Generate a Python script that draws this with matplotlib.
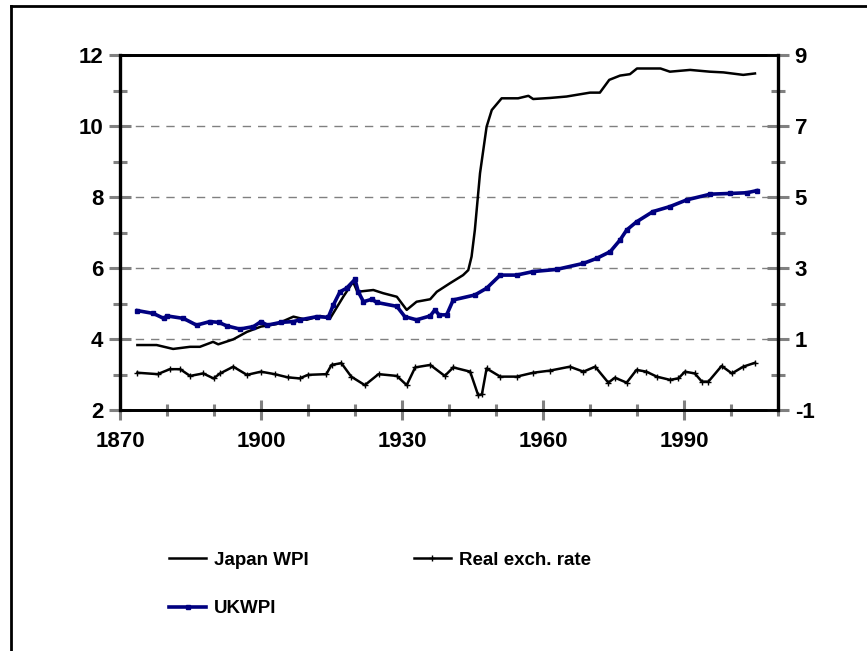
import numpy as np
import matplotlib.pyplot as plt
from matplotlib.lines import Line2D

# Japan WPI (log, left axis)
jp_year = [1873.7, 1877.8, 1881.3, 1884.9, 1887, 1889.8, 1890.9, 1894.1, 1897, 1900,
           1903.3, 1906.9, 1909.7, 1912.6, 1914.7, 1917.5, 1919.6, 1920.5, 1923.9, 1926,
           1928.9, 1931, 1933.1, 1936, 1937.4, 1940.2, 1943, 1944.1, 1944.8, 1945.5,
           1946.6, 1948, 1949.1, 1951.2, 1954.7, 1956.9, 1957.9, 1961.5, 1965, 1970,
           1972.1, 1974.1, 1976.4, 1978.5, 1980, 1985, 1987, 1991.3, 1995.5, 1998.4,
           2002.6, 2005.1]
jp_wpi = [3.83, 3.83, 3.72, 3.78, 3.78, 3.92, 3.85, 3.99, 4.20, 4.35,
          4.42, 4.63, 4.54, 4.65, 4.58, 5.19, 5.61, 5.33, 5.38, 5.29,
          5.19, 4.82, 5.05, 5.12, 5.33, 5.57, 5.80, 5.94, 6.32, 7.07,
          8.67, 9.98, 10.45, 10.78, 10.78, 10.85, 10.76, 10.79, 10.83, 10.94,
          10.94, 11.30, 11.42, 11.46, 11.62, 11.62, 11.53, 11.58, 11.53, 11.51,
          11.44, 11.48]

# UK WPI (log, left axis)
uk_year = [1873.7, 1877.1, 1879.3, 1880, 1883.5, 1886.3, 1889.1, 1891, 1892.7, 1895.5,
           1898.4, 1900, 1901.3, 1904.3, 1906.9, 1908.3, 1911.9, 1914.3, 1915.4, 1916.8,
           1918.2, 1920, 1920.7, 1921.8, 1923.6, 1924.6, 1928.9, 1930.6, 1933.1, 1936,
           1937, 1937.9, 1939.5, 1940.9, 1945.5, 1948, 1950.9, 1954.4, 1957.9, 1962.9,
           1968.6, 1971.4, 1974.3, 1976.4, 1977.8, 1979.9, 1983.4, 1987, 1990.6, 1995.6,
           1999.8, 2003.4, 2005.5]
uk_wpi = [4.80, 4.72, 4.58, 4.65, 4.58, 4.39, 4.49, 4.47, 4.37, 4.28,
          4.35, 4.49, 4.39, 4.47, 4.49, 4.54, 4.63, 4.61, 4.96, 5.33,
          5.43, 5.68, 5.33, 5.05, 5.12, 5.03, 4.92, 4.63, 4.54, 4.65,
          4.82, 4.68, 4.68, 5.10, 5.24, 5.43, 5.80, 5.80, 5.90, 5.96,
          6.13, 6.27, 6.46, 6.79, 7.07, 7.30, 7.59, 7.73, 7.92, 8.08,
          8.10, 8.12, 8.18]

# Real exchange rate (right axis)
rx_year = [1873.7, 1878, 1880.6, 1882.8, 1884.9, 1887.7, 1889.9, 1891.3, 1894.1, 1897,
           1900, 1902.9, 1905.7, 1908.2, 1910, 1913.9, 1915, 1917.1, 1919.2, 1922.1,
           1925, 1928.9, 1931, 1932.8, 1936, 1939.1, 1940.9, 1944.5, 1946.2, 1947,
           1948, 1950.9, 1954.4, 1957.9, 1961.5, 1965.7, 1968.6, 1971.1, 1973.9, 1975.3,
           1977.8, 1979.9, 1982, 1984.2, 1987, 1988.8, 1990.2, 1992.3, 1993.8, 1995.2,
           1998, 2000.2, 2002.6, 2005.1]
rx_rate = [0.05, 0.01, 0.15, 0.15, -0.04, 0.03, -0.11, 0.03, 0.22, -0.01,
           0.08, 0.01, -0.08, -0.11, -0.01, 0.01, 0.27, 0.32, -0.06, -0.30,
           0.01, -0.04, -0.30, 0.20, 0.27, -0.04, 0.20, 0.08, -0.58, -0.56,
           0.17, -0.06, -0.06, 0.05, 0.11, 0.22, 0.08, 0.22, -0.23, -0.09,
           -0.23, 0.13, 0.08, -0.06, -0.15, -0.11, 0.08, 0.03, -0.20, -0.20,
           0.24, 0.03, 0.22, 0.33]

x_ticks = [1870, 1900, 1930, 1960, 1990]
left_ticks = [2, 4, 6, 8, 10, 12]
right_ticks = [-1, 1, 3, 5, 7, 9]

plt.rcParams['font.family'] = ['Liberation Sans', 'DejaVu Sans']
plt.rcParams['font.weight'] = 'bold'
plt.rcParams['axes.unicode_minus'] = False

fig = plt.figure(figsize=(8.67, 6.51), dpi=100)
ax = fig.add_axes([120 / 867, 1 - 410 / 651, 658 / 867, 355 / 651])
ax2 = ax.twinx()

l1, = ax.plot(jp_year, jp_wpi, color='black', lw=1.8, label='Japan WPI')
l2, = ax.plot(uk_year, uk_wpi, color='#000080', lw=2.6, marker='s', ms=3,
              label='UKWPI')
l3, = ax2.plot(rx_year, rx_rate, color='black', lw=1.8, marker='+', ms=5,
               mew=1, label='Real exch. rate')

ax.set_xlim(1870, 2010)
ax.set_ylim(2, 12)
ax2.set_ylim(-1, 9)

ax.set_xticks(x_ticks)
ax.set_xticks(np.arange(1870, 2011, 10), minor=True)
ax.set_yticks(left_ticks)
ax.set_yticks(np.arange(3, 12, 2), minor=True)
ax2.set_yticks(right_ticks)
ax2.set_yticks(np.arange(0, 9, 2), minor=True)

for a in (ax, ax2):
    a.tick_params(which='major', direction='inout', length=16, width=2.2,
                  color='#808080', labelsize=16, pad=4)
    a.tick_params(which='minor', direction='inout', length=10, width=2.2,
                  color='#808080')
    for s in a.spines.values():
        s.set_color('black')
        s.set_linewidth(2)
ax.spines['left'].set_linewidth(2.4)
ax2.spines['right'].set_linewidth(2.4)
ax.tick_params(axis='x', which='major', length=14, pad=8)
ax.tick_params(axis='x', which='minor', length=9)

for v in [4, 6, 8, 10]:
    ax.axhline(v, color='#808080', lw=1, ls=(0, (6, 5)), zorder=0)

fig.legend(handles=[l1, l2, l3], loc='upper left', ncol=2,
           bbox_to_anchor=(152 / 867, 1 - 535 / 651), frameon=False,
           prop={'size': 13.5, 'weight': 'bold'}, handlelength=2.0,
           columnspacing=5.6, labelspacing=1.65, handletextpad=0.4)

# figure frame
fig.add_artist(Line2D([11 / 867, 1], [1 - 6 / 651, 1 - 6 / 651],
                      color='black', lw=2, transform=fig.transFigure))
fig.add_artist(Line2D([11 / 867, 11 / 867], [0, 1 - 6 / 651],
                      color='black', lw=2, transform=fig.transFigure))

fig.savefig('out.png', dpi=100)
